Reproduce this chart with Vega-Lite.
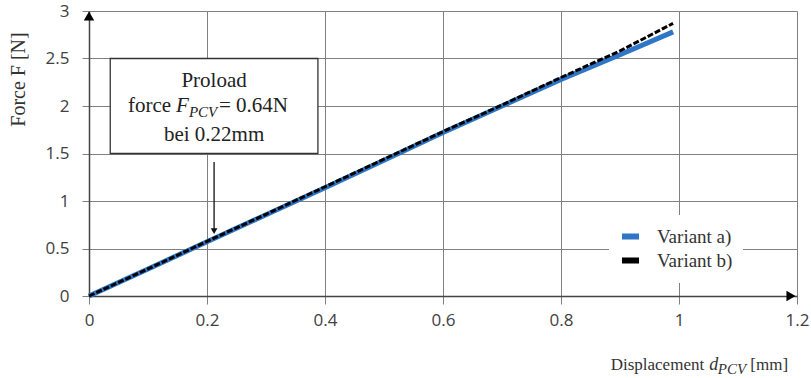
{
  "$schema": "https://vega.github.io/schema/vega-lite/v6.json",
  "width": 708,
  "height": 285,
  "autosize": {"type": "none"},
  "padding": {"left": 89, "top": 11, "right": 14, "bottom": 82},
  "background": "white",
  "config": {"view": {"stroke": null}},
  "datasets": {
    "curves": [
      {"d": 0, "F": 0, "variant": "Variant a)"},
      {"d": 0.1, "F": 0.285, "variant": "Variant a)"},
      {"d": 0.2, "F": 0.57, "variant": "Variant a)"},
      {"d": 0.3, "F": 0.855, "variant": "Variant a)"},
      {"d": 0.4, "F": 1.14, "variant": "Variant a)"},
      {"d": 0.5, "F": 1.43, "variant": "Variant a)"},
      {"d": 0.6, "F": 1.72, "variant": "Variant a)"},
      {"d": 0.7, "F": 2.0, "variant": "Variant a)"},
      {"d": 0.8, "F": 2.28, "variant": "Variant a)"},
      {"d": 0.9, "F": 2.54, "variant": "Variant a)"},
      {"d": 0.99, "F": 2.78, "variant": "Variant a)"},
      {"d": 0, "F": 0, "variant": "Variant b)"},
      {"d": 0.1, "F": 0.285, "variant": "Variant b)"},
      {"d": 0.2, "F": 0.575, "variant": "Variant b)"},
      {"d": 0.3, "F": 0.86, "variant": "Variant b)"},
      {"d": 0.4, "F": 1.15, "variant": "Variant b)"},
      {"d": 0.5, "F": 1.44, "variant": "Variant b)"},
      {"d": 0.6, "F": 1.73, "variant": "Variant b)"},
      {"d": 0.7, "F": 2.01, "variant": "Variant b)"},
      {"d": 0.8, "F": 2.3, "variant": "Variant b)"},
      {"d": 0.9, "F": 2.58, "variant": "Variant b)"},
      {"d": 0.99, "F": 2.87, "variant": "Variant b)"}
    ]
  },
  "layer": [
    {
      "data": {"values": [{"d1": 0.036, "d2": 0.388, "F1": 1.5, "F2": 2.5}]},
      "mark": {"type": "rect", "fill": "white", "stroke": "#333333", "strokeWidth": 1.3},
      "encoding": {
        "x": {"field": "d1", "type": "quantitative", "scale": {"domain": [0, 1.2], "nice": false}, "axis": {"values": [0, 0.2, 0.4, 0.6, 0.8, 1, 1.2], "format": "~g", "title": null, "grid": true, "gridColor": "#808080", "gridWidth": 1, "domainColor": "#444444", "domainWidth": 1.5, "tickColor": "#808080", "tickSize": 8, "labelFont": "Open Sans", "labelFontSize": 17, "labelColor": "#404040", "labelPadding": 8, "labelFlush": false}},
        "x2": {"field": "d2"},
        "y": {"field": "F1", "type": "quantitative", "scale": {"domain": [0, 3], "nice": false}, "axis": {"values": [0, 0.5, 1, 1.5, 2, 2.5, 3], "format": "~g", "title": "Force F [N]", "titleFont": "Liberation Serif", "titleFontSize": 20, "titleFontWeight": "normal", "titleColor": "#333333", "titleAngle": -90, "titleX": -71, "titleY": 68, "titleAlign": "center", "titleBaseline": "middle", "grid": true, "gridColor": "#808080", "gridWidth": 1, "domainColor": "#444444", "domainWidth": 1.5, "tickColor": "#808080", "tickSize": 7, "labelFont": "Open Sans", "labelFontSize": 17, "labelColor": "#404040", "labelPadding": 13, "labelFlush": false}},
        "y2": {"field": "F2"}
      }
    },
    {
      "data": {"values": [{"d": 0.212, "F": 2.2, "t": "Proload"}, {"d": 0.212, "F": 1.63, "t": "bei 0.22mm"}]},
      "mark": {"type": "text", "font": "Liberation Serif", "fontSize": 21, "align": "center", "baseline": "alphabetic", "color": "#222222"},
      "encoding": {"x": {"field": "d", "type": "quantitative"}, "y": {"field": "F", "type": "quantitative"}, "text": {"field": "t"}}
    },
    {
      "data": {"values": [{"d": 0.066, "F": 1.935, "t": "force "}]},
      "mark": {"type": "text", "font": "Liberation Serif", "fontSize": 21, "align": "left", "baseline": "alphabetic", "color": "#222222"},
      "encoding": {"x": {"field": "d", "type": "quantitative"}, "y": {"field": "F", "type": "quantitative"}, "text": {"field": "t"}}
    },
    {
      "data": {"values": [{"d": 0.066, "F": 1.935, "t": "F"}]},
      "mark": {"type": "text", "font": "Liberation Serif", "fontSize": 21, "fontStyle": "italic", "align": "left", "baseline": "alphabetic", "dx": 48, "color": "#222222"},
      "encoding": {"x": {"field": "d", "type": "quantitative"}, "y": {"field": "F", "type": "quantitative"}, "text": {"field": "t"}}
    },
    {
      "data": {"values": [{"d": 0.066, "F": 1.935, "t": "PCV"}]},
      "mark": {"type": "text", "font": "Liberation Serif", "fontSize": 15, "fontStyle": "italic", "align": "left", "baseline": "alphabetic", "dx": 61, "dy": 5, "color": "#222222"},
      "encoding": {"x": {"field": "d", "type": "quantitative"}, "y": {"field": "F", "type": "quantitative"}, "text": {"field": "t"}}
    },
    {
      "data": {"values": [{"d": 0.066, "F": 1.935, "t": "= 0.64N"}]},
      "mark": {"type": "text", "font": "Liberation Serif", "fontSize": 21, "align": "left", "baseline": "alphabetic", "dx": 91, "color": "#222222"},
      "encoding": {"x": {"field": "d", "type": "quantitative"}, "y": {"field": "F", "type": "quantitative"}, "text": {"field": "t"}}
    },
    {
      "data": {"values": [{"d": 0.212, "F": 1.41, "F2": 0.68}]},
      "mark": {"type": "rule", "color": "#111111", "strokeWidth": 1.3},
      "encoding": {"x": {"field": "d", "type": "quantitative"}, "y": {"field": "F", "type": "quantitative"}, "y2": {"field": "F2"}}
    },
    {
      "data": {"values": [{"d": 0.212, "F": 0.64}]},
      "mark": {"type": "point", "shape": "triangle-down", "filled": true, "color": "#111111", "size": 45, "opacity": 1, "yOffset": -4},
      "encoding": {"x": {"field": "d", "type": "quantitative"}, "y": {"field": "F", "type": "quantitative"}}
    },
    {
      "data": {"values": [{"d": 0, "F": 3}]},
      "mark": {"type": "point", "shape": "triangle-up", "filled": true, "color": "#000000", "size": 110, "opacity": 1, "yOffset": 5},
      "encoding": {"x": {"field": "d", "type": "quantitative"}, "y": {"field": "F", "type": "quantitative"}}
    },
    {
      "data": {"values": [{"d": 1.2, "F": 0}]},
      "mark": {"type": "point", "shape": "triangle-right", "filled": true, "color": "#000000", "size": 110, "opacity": 1, "xOffset": -6},
      "encoding": {"x": {"field": "d", "type": "quantitative"}, "y": {"field": "F", "type": "quantitative"}}
    },
    {
      "data": {"values": [{"d": 1.185, "F": -0.78, "t": "[mm]"}]},
      "mark": {"type": "text", "font": "Liberation Serif", "fontSize": 17, "align": "right", "baseline": "alphabetic", "color": "#333333"},
      "encoding": {"x": {"field": "d", "type": "quantitative"}, "y": {"field": "F", "type": "quantitative"}, "text": {"field": "t"}}
    },
    {
      "data": {"values": [{"d": 1.185, "F": -0.78, "t": "PCV"}]},
      "mark": {"type": "text", "font": "Liberation Serif", "fontSize": 15, "fontStyle": "italic", "align": "right", "baseline": "alphabetic", "dx": -42, "dy": 4, "color": "#333333"},
      "encoding": {"x": {"field": "d", "type": "quantitative"}, "y": {"field": "F", "type": "quantitative"}, "text": {"field": "t"}}
    },
    {
      "data": {"values": [{"d": 1.185, "F": -0.78, "t": "d"}]},
      "mark": {"type": "text", "font": "Liberation Serif", "fontSize": 18, "fontStyle": "italic", "align": "right", "baseline": "alphabetic", "dx": -70, "color": "#333333"},
      "encoding": {"x": {"field": "d", "type": "quantitative"}, "y": {"field": "F", "type": "quantitative"}, "text": {"field": "t"}}
    },
    {
      "data": {"values": [{"d": 1.185, "F": -0.78, "t": "Displacement"}]},
      "mark": {"type": "text", "font": "Liberation Serif", "fontSize": 17, "align": "right", "baseline": "alphabetic", "dx": -84, "color": "#333333"},
      "encoding": {"x": {"field": "d", "type": "quantitative"}, "y": {"field": "F", "type": "quantitative"}, "text": {"field": "t"}}
    },
    {
      "data": {"name": "curves"},
      "transform": [{"filter": "datum.variant === 'Variant a)'"}],
      "mark": {"type": "line", "strokeWidth": 5, "strokeCap": "butt"},
      "encoding": {
        "x": {"field": "d", "type": "quantitative"},
        "y": {"field": "F", "type": "quantitative"},
        "color": {"field": "variant", "type": "nominal", "scale": {"domain": ["Variant a)", "Variant b)"], "range": ["#2f77c6", "#000000"]},
          "legend": {"title": null, "orient": "none", "legendX": 520, "legendY": 204, "fillColor": "white", "padding": 10, "symbolType": "stroke", "symbolStrokeWidth": 6, "symbolSize": 289, "symbolDash": [1, 0], "labelFont": "Liberation Serif", "labelFontSize": 19, "labelColor": "#333333", "labelOffset": 15, "rowPadding": -4}}
      }
    },
    {
      "data": {"name": "curves"},
      "transform": [{"filter": "datum.variant === 'Variant b)'"}],
      "mark": {"type": "line", "strokeWidth": 3, "strokeDash": [6, 2], "strokeCap": "butt"},
      "encoding": {
        "x": {"field": "d", "type": "quantitative"},
        "y": {"field": "F", "type": "quantitative"},
        "color": {"field": "variant", "type": "nominal"}
      }
    }
  ]
}
